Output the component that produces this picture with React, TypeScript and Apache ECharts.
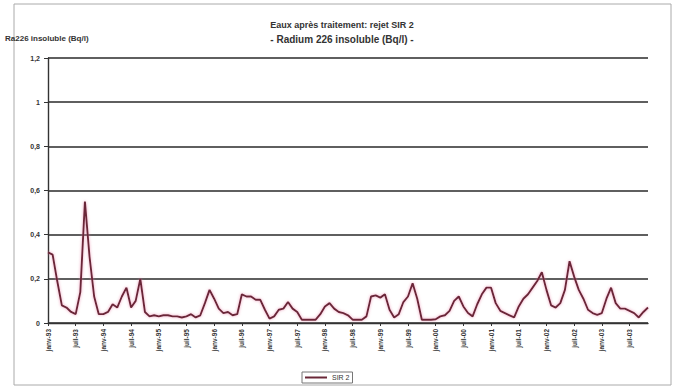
import React, { useEffect, useRef } from "react";
import * as echarts from "echarts";

const monthNames = ["janv", "févr", "mars", "avr", "mai", "juin", "juil", "août", "sept", "oct", "nov", "déc"];
const startYear = 93;
const yTicks = [0, 0.2, 0.4, 0.6, 0.8, 1, 1.2];
const seriesName = "SIR 2";
const sir2 = [
  0.32, 0.31, 0.19, 0.08, 0.07, 0.05, 0.04, 0.14, 0.55, 0.3,
  0.12, 0.04, 0.04, 0.05, 0.085, 0.07, 0.12, 0.16, 0.07, 0.1,
  0.2, 0.05, 0.03, 0.035, 0.03, 0.035, 0.035, 0.03, 0.03, 0.025,
  0.03, 0.04, 0.025, 0.035, 0.09, 0.15, 0.11, 0.065, 0.045, 0.05,
  0.035, 0.04, 0.13, 0.12, 0.12, 0.105, 0.105, 0.06, 0.02, 0.03,
  0.06, 0.065, 0.095, 0.065, 0.05, 0.015, 0.015, 0.015, 0.015, 0.04,
  0.075, 0.09, 0.065, 0.05, 0.045, 0.035, 0.015, 0.015, 0.015, 0.03,
  0.12, 0.125, 0.115, 0.13, 0.06, 0.025, 0.04, 0.095, 0.12, 0.18,
  0.11, 0.015, 0.015, 0.015, 0.017, 0.03, 0.035, 0.055, 0.1, 0.12,
  0.075, 0.045, 0.03, 0.085, 0.13, 0.16, 0.16, 0.09, 0.055, 0.045,
  0.035, 0.025, 0.075, 0.11, 0.13, 0.16, 0.19, 0.23, 0.15, 0.08,
  0.07, 0.09, 0.15, 0.28, 0.21, 0.15, 0.11, 0.06, 0.045, 0.037,
  0.045, 0.11, 0.16, 0.09, 0.065, 0.065, 0.055, 0.045, 0.025, 0.05,
  0.07,
];

const categories: string[] = sir2.map((_, i) => {
  const m = i % 12;
  const y = (startYear + Math.floor(i / 12)) % 100;
  return monthNames[m] + "-" + String(y).padStart(2, "0");
});

export default function App() {
  const ref = useRef<HTMLDivElement>(null);
  useEffect(() => {
    document.body.style.margin = "0";
    if (!ref.current) return;
    const chart = echarts.init(ref.current, null, { renderer: "svg" });
    const font = "Liberation Sans, Arial, sans-serif";
    chart.setOption({
      animation: false,
      backgroundColor: "#fff",
      graphic: [
        {
          type: "rect",
          shape: { x: 14, y: 4, width: 657, height: 381 },
          style: { fill: "none", stroke: "#aaa", lineWidth: 1 },
          silent: true,
        },
        {
          type: "text",
          x: 342,
          y: 20,
          style: {
            text: "Eaux après traitement: rejet SIR 2",
            font: "bold 9px " + font,
            fill: "#333",
            textAlign: "center",
          },
        },
        {
          type: "text",
          x: 342,
          y: 34,
          style: {
            text: "- Radium 226 insoluble (Bq/l) -",
            font: "bold 10px " + font,
            fill: "#333",
            textAlign: "center",
          },
        },
        {
          type: "text",
          x: 5,
          y: 34,
          style: {
            text: "Ra226 insoluble (Bq/l)",
            font: "bold 8px " + font,
            fill: "#333",
          },
        },
      ],
      legend: {
        data: [seriesName],
        top: 372,
        left: 302,
        itemWidth: 22,
        itemHeight: 2,
        itemGap: 4,
        padding: [2, 3],
        borderColor: "#777",
        borderWidth: 1,
        icon: "rect",
        textStyle: { fontSize: 7, color: "#333", fontFamily: font },
      },
      grid: { left: 48, right: 35, top: 58, bottom: 65 },
      xAxis: {
        type: "category",
        data: categories,
        boundaryGap: false,
        axisLine: { lineStyle: { color: "#333", width: 1.4 } },
        axisTick: { interval: 5, length: 3, lineStyle: { color: "#333" } },
        axisLabel: {
          interval: 5,
          rotate: 90,
          fontSize: 6.5,
          color: "#333",
          fontFamily: font,
          fontWeight: "bold",
          margin: 6,
        },
        splitLine: { show: false },
      },
      yAxis: {
        type: "value",
        min: 0,
        max: 1.2,
        interval: 0.2,
        axisLine: { show: true, lineStyle: { color: "#333", width: 1.4 } },
        axisTick: { show: true, length: 4, lineStyle: { color: "#333" } },
        axisLabel: {
          fontSize: 7,
          color: "#333",
          fontFamily: font,
          fontWeight: "bold",
          margin: 8,
          formatter: (v: number) => {
            const t = yTicks.find((k) => Math.abs(k - v) < 1e-9);
            return String(t !== undefined ? t : v).replace(".", ",");
          },
        },
        splitLine: { show: true, lineStyle: { color: "#2a2a2a", width: 1.5 } },
      },
      series: [
        {
          name: seriesName,
          type: "line",
          data: sir2,
          symbol: "none",
          smooth: false,
          lineStyle: {
            color: "#6a2838",
            width: 1.9,
            shadowColor: "rgba(230,120,160,0.7)",
            shadowBlur: 3,
          },
          itemStyle: { color: "#6a2838" },
        },
      ],
    });
    return () => chart.dispose();
  }, []);
  return <div ref={ref} style={{ width: 683, height: 388 }} />;
}
